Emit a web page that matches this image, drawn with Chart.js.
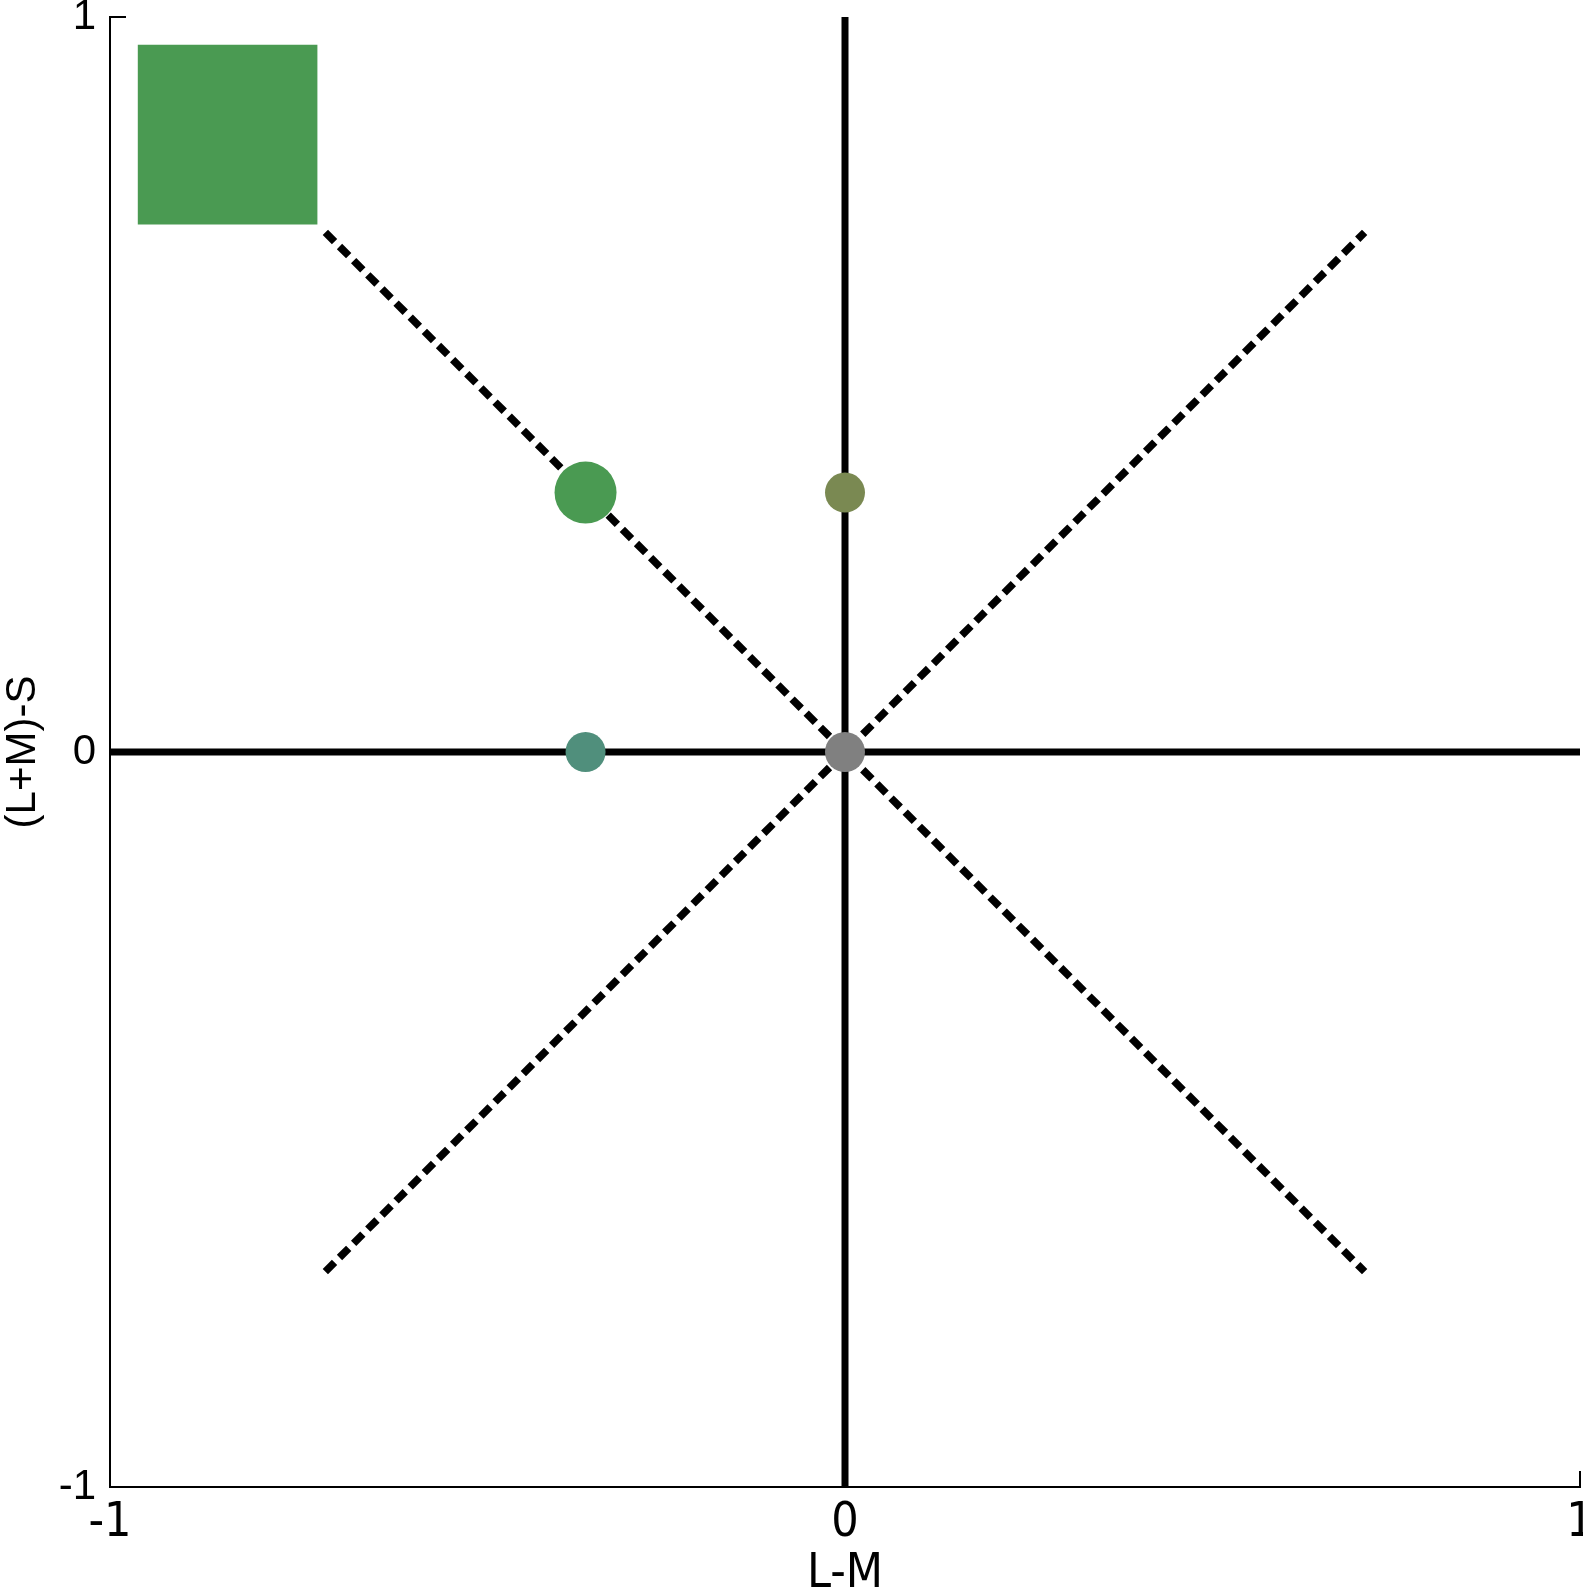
<!DOCTYPE html>
<html>
<head>
<meta charset="utf-8">
<script src="https://cdn.jsdelivr.net/npm/chart.js@4.4.1/dist/chart.umd.min.js"></script>
<style>
    html, body { margin: 0; padding: 0; background: #fff; }
</style>
</head>
<body>
<canvas id="greatChart" width="1583" height="1589"></canvas>
<script>
// tick labels
const xTicks = [-1, 0, 1];
const yTicks = [-1, 0, 1];

// cardinal axes through the origin
const lmAxis = [{ x: -1, y: 0 }, { x: 1, y: 0 }];
const sAxis = [{ x: 0, y: -1 }, { x: 0, y: 1 }];

// intermediate (diagonal) directions
const diagDown = [{ x: -0.707, y: 0.707 }, { x: 0.707, y: -0.707 }];
const diagUp = [{ x: -0.707, y: -0.707 }, { x: 0.707, y: 0.707 }];

// stimuli
const greyPoint = [{ x: 0, y: 0 }];
const tealPoint = [{ x: -0.353, y: 0 }];
const olivePoint = [{ x: 0, y: 0.353 }];
const greenPoint = [{ x: -0.353, y: 0.353 }];
const greenPatch = [{ x: -0.84, y: 0.84 }];

// draws the short inward tick marks on the left and bottom spines
const innerTicks = {
    id: 'innerTicks',
    beforeDatasetsDraw(chart) {
        const { ctx, chartArea, scales } = chart;
        ctx.save();
        ctx.strokeStyle = '#000';
        ctx.lineWidth = 2;
        ctx.beginPath();
        scales.x.ticks.forEach(t => {
            const px = scales.x.getPixelForValue(t.value);
            ctx.moveTo(px, chartArea.bottom);
            ctx.lineTo(px, chartArea.bottom - 16);
        });
        scales.y.ticks.forEach(t => {
            const py = scales.y.getPixelForValue(t.value);
            ctx.moveTo(chartArea.left, py);
            ctx.lineTo(chartArea.left + 16, py);
        });
        ctx.stroke();
        ctx.restore();
    }
};

function lineSet(data, dashed) {
    return {
        data: data,
        showLine: true,
        borderColor: '#000',
        borderWidth: dashed ? 7.5 : 7,
        borderDash: dashed ? [13, 7] : [],
        borderCapStyle: 'butt',
        pointRadius: 0,
        pointHoverRadius: 0,
        order: dashed ? 4 : 5
    };
}

function pointSet(data, color, radius, style) {
    return {
        data: data,
        showLine: false,
        pointStyle: style || 'circle',
        pointRadius: radius,
        pointHoverRadius: radius,
        pointBackgroundColor: color,
        pointBorderWidth: 0,
        borderColor: color,
        order: 1
    };
}

const numFont = "'Liberation Sans', Arial, sans-serif";
const narrowFont = "'Liberation Sans Narrow', 'DejaVu Sans Condensed', 'Liberation Sans', sans-serif";

const ctx = document.getElementById('greatChart').getContext('2d');
const chart = new Chart(ctx, {
    type: 'scatter',
    data: {
        datasets: [
            lineSet(lmAxis, false),
            lineSet(sAxis, false),
            lineSet(diagDown, true),
            lineSet(diagUp, true),
            pointSet(greenPatch, '#4a9a52', 127, 'rect'),
            pointSet(greenPoint, '#4a9a52', 31),
            pointSet(olivePoint, '#7a8952', 20),
            pointSet(tealPoint, '#508f7c', 20),
            pointSet(greyPoint, '#808080', 20)
        ]
    },
    options: {
        responsive: false,
        devicePixelRatio: 1,
        animation: false,
        layout: { autoPadding: false, padding: { top: 17, right: 3, left: 0, bottom: 0 } },
        plugins: {
            legend: { display: false },
            tooltip: { enabled: false }
        },
        scales: {
            x: {
                type: 'linear',
                min: -1,
                max: 1,
                afterBuildTicks: s => { s.ticks = xTicks.map(v => ({ value: v })); },
                afterFit: s => { s.height = 102; s.paddingLeft = 0; s.paddingRight = 0; },
                grid: { display: false, drawTicks: false },
                border: { display: true, color: '#000', width: 2 },
                ticks: {
                    color: '#000',
                    padding: 13,
                    maxRotation: 0,
                    autoSkip: false,
                    font: { family: narrowFont, size: 48, lineHeight: 1 }
                },
                title: {
                    display: true,
                    text: 'L-M',
                    color: '#000',
                    padding: 0,
                    font: { family: narrowFont, size: 48, lineHeight: 0.6 }
                }
            },
            y: {
                type: 'linear',
                min: -1,
                max: 1,
                afterBuildTicks: s => { s.ticks = yTicks.map(v => ({ value: v })); },
                afterFit: s => { s.width = 110; s.paddingTop = 0; s.paddingBottom = 0; },
                grid: { display: false, drawTicks: false },
                border: { display: true, color: '#000', width: 2 },
                ticks: {
                    color: '#000',
                    padding: 14,
                    autoSkip: false,
                    font: { family: numFont, size: 42, lineHeight: 1 }
                },
                title: {
                    display: true,
                    text: '(L+M)-S',
                    color: '#000',
                    padding: 0,
                    font: { family: numFont, size: 42, lineHeight: 1.1 }
                }
            }
        }
    },
    plugins: [innerTicks]
});
</script>
</body>
</html>
